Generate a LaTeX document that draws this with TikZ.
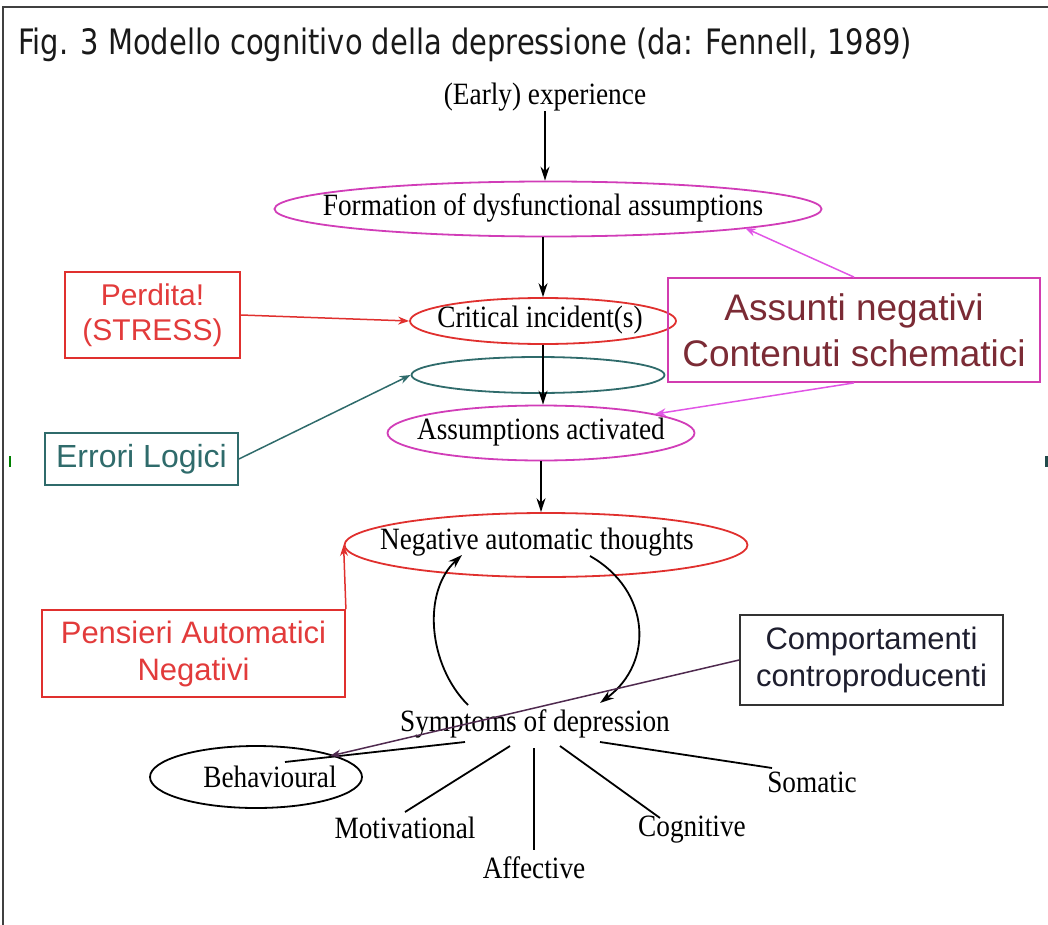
\documentclass[tikz,border=0pt]{standalone}
\usepackage{fontspec}
\usepackage{graphicx}
\setmainfont{Liberation Serif}
\newfontfamily\serifc[FakeStretch=0.88]{Liberation Serif}
\newfontfamily\boxfont{Liberation Sans}
\newfontfamily\titlefont{DejaVu Sans}
\usetikzlibrary{shapes.geometric,arrows.meta}
\definecolor{magE}{HTML}{D13DB8}
\definecolor{magA}{HTML}{E155E6}
\definecolor{magB}{HTML}{D23CB0}
\definecolor{maroon}{HTML}{7B2B35}
\definecolor{redE}{HTML}{E0302E}
\definecolor{redT}{HTML}{E23B3B}
\definecolor{tealC}{HTML}{2F6B6B}
\definecolor{purpA}{HTML}{4F2A4F}
\definecolor{darkT}{HTML}{1E1E2E}
\begin{document}
\begin{tikzpicture}[x=1pt,y=-1pt,
  serif/.style={font=\serifc\fontsize{31}{34}\selectfont, inner sep=0pt},
  oval/.style={ellipse, draw, line width=1.8pt, inner sep=0pt},
  lbox/.style={rectangle, draw, line width=1.8pt, inner sep=0pt, align=center},
  blk/.style={line width=1.8pt, -{Stealth[length=14pt,width=9pt]}},
  carrow/.style={line width=1.5pt, -{Stealth[length=11pt,width=8pt]}},
  plain/.style={line width=1.8pt}
]
\useasboundingbox (0,0) rectangle (1048,925);
\draw[line width=1.5pt, black!75] (3,925) -- (3,7) -- (1048,7);
\fill[green!50!black] (9,456) rectangle (11,467);
\fill[tealC!70!black] (1045,456) rectangle (1048,467);

% title
\node[anchor=base west, inner sep=0pt, text=black!90] (title) at (18,55)
  {\resizebox{894pt}{\height}{\titlefont\fontsize{35}{40}\selectfont Fig. 3 Modello cognitivo della depressione (da: Fennell, 1989)}};

% main chain
\node[serif] (early) at (545,97) {(Early) experience};
\node[oval, draw=magE, minimum width=547pt, minimum height=55pt] (form) at (548,209) {};
\node[serif] (formt) at (543,208) {Formation of dysfunctional assumptions};
\node[oval, draw=redE, minimum width=266pt, minimum height=46pt] (crit) at (543,321) {};
\node[serif] (critt) at (540,320) {Critical incident(s)};
\node[oval, draw=tealC, minimum width=253pt, minimum height=36pt] (tealov) at (538,375) {};
\node[oval, draw=magE, minimum width=307pt, minimum height=55pt] (assum) at (541,433) {};
\node[serif] (assumt) at (541,432) {Assumptions activated};
\node[oval, draw=redE, minimum width=403pt, minimum height=64pt] (nat) at (546,545) {};
\node[serif] (natt) at (537,542) {Negative automatic thoughts};

\draw[blk] (early.south) -- (early.south |- form.north);
\draw[blk] (crit.north |- form.south) -- (crit.north);
\draw[blk] (crit.south) -- (crit.south |- assum.north);
\draw[blk] (assum.south) -- (assum.south |- nat.north);

% annotation boxes
\node[lbox, draw=redE, text=redT, font=\boxfont\fontsize{30}{35}\selectfont, minimum width=175pt, minimum height=86pt] (perd) at (152.5,315) {Perdita!\\(STRESS)};
\node[lbox, draw=magB, text=maroon, font=\boxfont\fontsize{37}{46}\selectfont, minimum width=372pt, minimum height=104pt] (assunti) at (854,330) {Assunti negativi\\Contenuti schematici};
\node[lbox, draw=tealC, text=tealC, font=\boxfont\fontsize{32}{38}\selectfont, minimum width=193pt, minimum height=52pt] (err) at (141.5,459) {Errori Logici};
\node[lbox, draw=redE, text=redT, font=\boxfont\fontsize{31}{37}\selectfont, minimum width=303pt, minimum height=87pt] (pens) at (193.5,653.5) {Pensieri Automatici\\Negativi};
\node[lbox, draw=black!80, text=darkT, font=\boxfont\fontsize{31}{37}\selectfont, minimum width=263pt, minimum height=90pt] (comp) at (871.5,660) {Comportamenti\\controproducenti};

\coordinate (formhit) at (745,228);
\coordinate (assumhit) at (655,414);
\draw[carrow, redE] (perd.east) -- (crit.west);
\draw[carrow, magA] (assunti.north) -- (formhit);
\draw[carrow, magA] (assunti.south) -- (assumhit);
\draw[carrow, tealC] (err.east) -- (tealov.west);
\draw[carrow, redE] (pens.north east) -- (nat.west);

% symptoms
\node[serif] (sym) at (535,724) {Symptoms of depression};
\node[oval, draw=black, minimum width=212pt, minimum height=62pt] (beh) at (256,777) {};
\node[serif] (beht) at (270,777) {Behavioural};
\node[serif] (mot) at (405,828) {Motivational};
\node[serif] (aff) at (534,868) {Affective};
\node[serif] (cog) at (692,830) {Cognitive};
\node[serif] (som) at (812,782) {Somatic};

\coordinate (s1) at (465,742); \coordinate (b1) at (285,762);
\coordinate (s2) at (510,746); \coordinate (m1) at (405,812);
\coordinate (s3) at (534,748); \coordinate (a1) at (534,850);
\coordinate (s4) at (560,746); \coordinate (c1) at (660,818);
\coordinate (s5) at (600,742); \coordinate (so1) at (772,768);
\draw[plain] (s1) -- (b1);
\draw[plain] (s2) -- (m1);
\draw[plain] (s3) -- (a1);
\draw[plain] (s4) -- (c1);
\draw[plain] (s5) -- (so1);

% cycle
\coordinate (cl0) at (468,705); \coordinate (cl1) at (462,555);
\coordinate (cr0) at (590,556); \coordinate (cr1) at (600,703);
\draw[blk] (cl0) .. controls (428,665) and (422,592) .. (cl1);
\draw[blk] (cr0) .. controls (650,590) and (655,662) .. (cr1);

% purple arrow
\coordinate (behtop) at (330,756);
\draw[carrow, purpA] (comp.west) -- (behtop);
\end{tikzpicture}
\end{document}
